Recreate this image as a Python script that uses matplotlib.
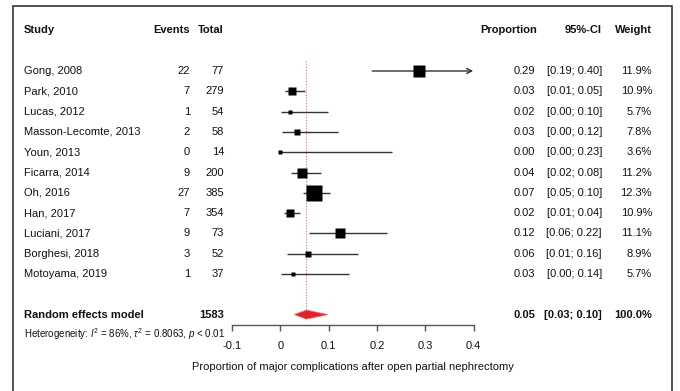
import matplotlib
matplotlib.use("Agg")
import matplotlib.pyplot as plt
import matplotlib.transforms as mtransforms
from matplotlib.patches import Polygon, Rectangle
import numpy as np

plt.rcParams['font.family'] = ['Liberation Sans', 'DejaVu Sans']
plt.rcParams['mathtext.fontset'] = 'custom'
plt.rcParams['mathtext.rm'] = 'Liberation Sans'
plt.rcParams['mathtext.it'] = 'Liberation Sans:italic'

# study data
studies = ["Gong, 2008", "Park, 2010", "Lucas, 2012", "Masson-Lecomte, 2013", "Youn, 2013",
           "Ficarra, 2014", "Oh, 2016", "Han, 2017", "Luciani, 2017", "Borghesi, 2018",
           "Motoyama, 2019"]
events = [22, 7, 1, 2, 0, 9, 27, 7, 9, 3, 1]
totals = [77, 279, 54, 58, 14, 200, 385, 354, 73, 52, 37]
proportion = [0.286, 0.025, 0.019, 0.034, 0.0, 0.045, 0.070, 0.020, 0.123, 0.058, 0.027]
ci_low = [0.19, 0.010, 0.001, 0.004, 0.0, 0.022, 0.047, 0.008, 0.059, 0.013, 0.001]
ci_high = [0.40, 0.052, 0.099, 0.119, 0.23, 0.084, 0.102, 0.040, 0.221, 0.160, 0.142]
prop_txt = ["0.29", "0.03", "0.02", "0.03", "0.00", "0.04", "0.07", "0.02", "0.12", "0.06", "0.03"]
ci_txt = ["[0.19; 0.40]", "[0.01; 0.05]", "[0.00; 0.10]", "[0.00; 0.12]", "[0.00; 0.23]",
          "[0.02; 0.08]", "[0.05; 0.10]", "[0.01; 0.04]", "[0.06; 0.22]", "[0.01; 0.16]",
          "[0.00; 0.14]"]
weights = ["11.9%", "10.9%", "5.7%", "7.8%", "3.6%", "11.2%", "12.3%", "10.9%", "11.1%",
           "8.9%", "5.7%"]

# pooled random effects estimate
pooled = 0.054
pooled_low = 0.029
pooled_high = 0.098
pooled_total = 1583

W, H = 680, 391
fig = plt.figure(figsize=(W / 100, H / 100), dpi=100)

ax_l, ax_r, ax_b, ax_t = 232, 473.7, 324.5, 10
ax = fig.add_axes([ax_l / W, 1 - ax_b / H, (ax_r - ax_l) / W, (ax_b - ax_t) / H])
ax.set_xlim(-0.1, 0.4)
row0, rowh = 71, 20.3
ax.set_ylim((ax_b - row0) / rowh, (ax_t - row0) / rowh)
ax.patch.set_alpha(0)
for s in ['top', 'right', 'left']:
    ax.spines[s].set_visible(False)
ax.spines['bottom'].set_color('#555555')
ax.spines['bottom'].set_linewidth(1.0)
ax.set_yticks([])
ax.set_xticks([-0.1, 0, 0.1, 0.2, 0.3, 0.4])
ax.set_xticklabels(["-0.1", "0", "0.1", "0.2", "0.3", "0.4"])
ax.tick_params(axis='x', direction='out', length=4.5, width=1.0, color='#555555',
               labelsize=8, labelcolor='#111111', pad=7.5)
ax.set_xlabel("Proportion of major complications after open partial nephrectomy",
              fontsize=8, color='#111111', labelpad=8)

rows = np.arange(len(studies))
line_col = '#333333'

# reference line at pooled estimate
ax.plot([pooled, pooled], [-0.5, 12], color='#e8707a', lw=0.8, ls=(0, (1, 1.5)), zorder=1)

# confidence intervals and squares
for i in rows:
    lo, hi = ci_low[i], ci_high[i]
    if hi >= 0.4:
        ax.annotate('', xy=(0.399, i), xytext=(lo, i),
                    arrowprops=dict(arrowstyle='->', lw=1.0, color=line_col,
                                    shrinkA=0, shrinkB=0, mutation_scale=9))
    else:
        ax.plot([lo, hi], [i, i], color=line_col, lw=1.0, zorder=2, solid_capstyle='butt')
    e = events[i] if events[i] > 0 else 0.5
    w = 1 / (1 / e + 1 / (totals[i] - e))
    side = 0.72 * (3 * np.sqrt(w) + 1)
    ax.plot(proportion[i], i, marker='s', ms=side, color='black',
            mec='none', zorder=3)

# diamond for random effects model
dy = 0.22
diamond = Polygon([[pooled_low, 12], [pooled, 12 - dy], [pooled_high, 12], [pooled, 12 + dy]],
                  closed=True, facecolor='#e8202a', edgecolor='#f06060', lw=0.5, zorder=3)
ax.add_patch(diamond)

# text columns
tr = mtransforms.blended_transform_factory(fig.transFigure, ax.transData)
fs = 8
tc = '#111111'
x_study, x_ev, x_tot, x_prop, x_ci, x_w = 24, 190, 224, 537, 602, 652


def put(x, y, s, ha='left', bold=False, size=fs):
    fig.text(x / W, y, s, transform=tr, ha=ha, va='center', fontsize=size, color=tc,
             fontweight='bold' if bold else 'normal')


hy = -2.02
put(x_study, hy, "Study", bold=True)
put(x_ev, hy, "Events", ha='right', bold=True)
put(x_tot, hy, "Total", ha='right', bold=True)
put(x_prop, hy, "Proportion", ha='right', bold=True)
put(x_ci, hy, "95%-CI", ha='right', bold=True)
put(x_w, hy, "Weight", ha='right', bold=True)

for i in rows:
    put(x_study, i, studies[i])
    put(x_ev, i, str(events[i]), ha='right')
    put(x_tot, i, str(totals[i]), ha='right')
    put(x_prop - 2, i, prop_txt[i], ha='right')
    put(x_ci, i, ci_txt[i], ha='right')
    put(x_w, i, weights[i], ha='right')

put(x_study, 12, "Random effects model", bold=True)
put(x_tot, 12, str(pooled_total), ha='right', bold=True)
put(x_prop - 2, 12, "0.05", ha='right', bold=True)
put(x_ci, 12, "[0.03; 0.10]", ha='right', bold=True)
put(x_w, 12, "100.0%", ha='right', bold=True)
put(x_study, 12.98, r"Heterogeneity: $I^2$ = 86%, $\tau^2$ = 0.8063, $p$ < 0.01", size=7.0)

# outer frame
frame = Rectangle((12.5 / W, -0.05), (672 - 12.5) / W, 1.05 - 5.5 / H, transform=fig.transFigure,
                  fill=False, edgecolor='#333333', lw=1.2, clip_on=False)
fig.patches.append(frame)

fig.savefig("out.png", dpi=100)
